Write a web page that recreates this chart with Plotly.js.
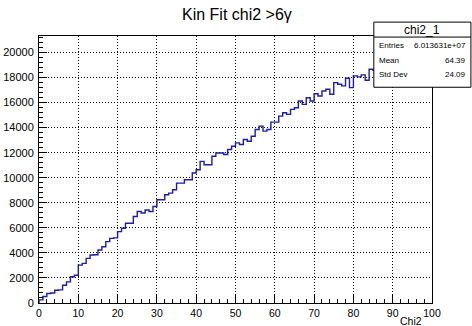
<!DOCTYPE html>
<html>
<head>
<meta charset="utf-8">
<script src="https://cdn.plot.ly/plotly-3.0.1.min.js"></script>
<style>
  html, body { margin: 0; padding: 0; background: #ffffff; }
  #chart { width: 472px; height: 326px; }
</style>
</head>
<body>
<div id="chart"></div>
<script>
// Histogram chi2_1: 100 bins over [0, 100)
const xMin = 0;
const xMax = 100;
const binCounts = [
  250, 520, 760, 800, 1020, 1050, 1420, 1690, 2090, 2220,
  3020, 3160, 3560, 3830, 3850, 4230, 4490, 4900, 5160, 5200,
  5700, 5970, 6370, 6370, 6900, 7300, 7190, 7430, 7300, 7700,
  8240, 8240, 8640, 8770, 9040, 9570, 9570, 9840, 9840, 10380,
  10640, 11310, 11040, 11040, 11710, 11980, 11980, 11850, 12250, 12510,
  12780, 12650, 13050, 12910, 13310, 13850, 14120, 13720, 13850, 14440,
  14440, 14920, 15190, 15060, 15460, 15590, 16130, 15860, 16390, 16130,
  16710, 16520, 16920, 17060, 16660, 17590, 17460, 17330, 17940, 17190,
  18130, 18050, 18210, 17780, 18660, 18580, 18800, 18950, 19100, 19000,
  19300, 19450, 19400, 19650, 19700, 19850, 19900, 20050, 20300, 20150
];

// Statistics panel text
const statsName = "chi2_1";
const statsLabels = ["Entries", "Mean", "Std Dev"];
const statsValues = ["6.013631e+07", "64.39", "24.09"];

const titleText = "Kin Fit chi2 >6\u03b3";
const xTitle = "Chi2";

// Step outline: lower bin edges, closed at the upper edge of the last bin
const nBins = binCounts.length;
const binWidth = (xMax - xMin) / nBins;
const stepX = [xMin];
const stepY = [0];
for (let i = 0; i < nBins; i++) {
  stepX.push(xMin + i * binWidth);
  stepY.push(binCounts[i]);
}
stepX.push(xMax);
stepY.push(binCounts[nBins - 1]);

const yTop = Math.max(...binCounts) * 1.05;

const FONT = "Liberation Sans, Arial, Helvetica, sans-serif";

const trace = {
  type: "scatter",
  mode: "lines",
  x: stepX,
  y: stepY,
  line: { shape: "hv", color: "#1c1ca8", width: 1.4 },
  hoverinfo: "skip",
  showlegend: false
};

// Stats panel geometry in paper units
const bx0 = 0.852, bx1 = 1.099, by0 = 0.808, by1 = 1.052, bsep = 0.996;
const rowY = [0.963, 0.910, 0.857];

const shapes = [
  { type: "rect", xref: "paper", yref: "paper", x0: bx0, x1: bx1, y0: by0, y1: by1,
    fillcolor: "#ffffff", line: { color: "#000000", width: 1 }, layer: "above" },
  { type: "line", xref: "paper", yref: "paper", x0: bx0, x1: bx1, y0: bsep, y1: bsep,
    line: { color: "#000000", width: 1 }, layer: "above" }
];

const annotations = [
  { xref: "paper", yref: "paper", x: (bx0 + bx1) / 2, y: (bsep + by1) / 2,
    text: statsName, showarrow: false, xanchor: "center", yanchor: "middle",
    font: { family: FONT, size: 12, color: "#000000" } },
  { xref: "paper", yref: "paper", x: 0.976, y: -0.068, text: xTitle, showarrow: false,
    xanchor: "right", yanchor: "middle", borderpad: 0,
    font: { family: FONT, size: 10.5, color: "#000000" } }
];
statsLabels.forEach((lab, i) => {
  annotations.push({ xref: "paper", yref: "paper", x: bx0 + 0.008, y: rowY[i], text: lab,
    showarrow: false, xanchor: "left", yanchor: "middle",
    font: { family: FONT, size: 8, color: "#000000" } });
  annotations.push({ xref: "paper", yref: "paper", x: bx1 - 0.008, y: rowY[i], text: statsValues[i],
    showarrow: false, xanchor: "right", yanchor: "middle",
    font: { family: FONT, size: 8, color: "#000000" } });
});

const layout = {
  width: 472,
  height: 326,
  margin: { l: 39, r: 40, t: 36, b: 23, pad: 0 },
  paper_bgcolor: "#ffffff",
  plot_bgcolor: "#ffffff",
  title: {
    text: titleText,
    x: 0.502, xanchor: "center",
    y: 0.957, yanchor: "middle",
    font: { family: FONT, size: 16, color: "#000000" }
  },
  xaxis: {
    range: [xMin, xMax],
    tickmode: "linear", tick0: 0, dtick: 10,
    ticks: "inside", ticklen: 8, tickwidth: 1, tickcolor: "#000000",
    minor: { ticks: "inside", ticklen: 4, dtick: 2, tickcolor: "#000000", showgrid: false },
    showgrid: true, gridcolor: "#000000", griddash: "1px,2px", gridwidth: 1,
    zeroline: false,
    showline: true, mirror: true, linecolor: "#000000", linewidth: 1,
    tickfont: { family: FONT, size: 10.5, color: "#000000" },
    fixedrange: true
  },
  yaxis: {
    range: [0, yTop],
    tickmode: "linear", tick0: 0, dtick: 2000,
    tickformat: "d",
    ticks: "inside", ticklen: 8, tickwidth: 1, tickcolor: "#000000",
    minor: { ticks: "inside", ticklen: 4, dtick: 400, tickcolor: "#000000", showgrid: false },
    showgrid: true, gridcolor: "#000000", griddash: "1px,2px", gridwidth: 1,
    zeroline: false,
    showline: true, mirror: true, linecolor: "#000000", linewidth: 1,
    tickfont: { family: FONT, size: 11, color: "#000000" },
    ticklabelstandoff: 2,
    fixedrange: true
  },
  shapes: shapes,
  annotations: annotations,
  showlegend: false
};

Plotly.newPlot("chart", [trace], layout, { displayModeBar: false, staticPlot: true });
</script>
</body>
</html>
